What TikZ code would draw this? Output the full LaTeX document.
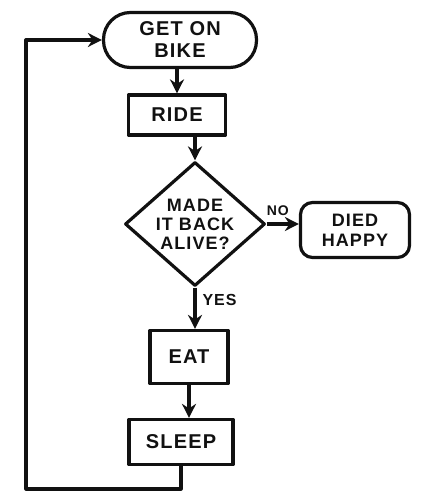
\documentclass[tikz,border=0pt]{standalone}
\usepackage{fontspec}
\setmainfont{Liberation Sans}[LetterSpace=6]
\usepackage{tikz}
\usetikzlibrary{arrows.meta,positioning,calc,shapes.geometric}
\definecolor{InkBlack}{HTML}{111111}

\begin{document}
\begin{tikzpicture}[x=1pt,y=-1pt,
    ink/.style={draw=InkBlack,line width=3.2pt,text=InkBlack,align=center,line join=round},
    boxnode/.style={ink,rectangle,inner sep=0pt,font=\bfseries\fontsize{20}{23}\selectfont},
    flow/.style={draw=InkBlack,line width=3.2pt,line join=round,-{Stealth[length=14pt,width=14pt]}},
    tag/.style={text=InkBlack,inner sep=0pt}]
  \useasboundingbox (0,0) rectangle (422,502);
  % boxes
  \node[boxnode,rounded corners=27pt,minimum width=153pt,minimum height=55pt] (bike) at (180,40) {GET ON\\[-1pt]BIKE};
  \node[boxnode,minimum width=97pt,minimum height=40pt] (ride) at (177,115) {RIDE};
  \node[ink,diamond,inner sep=-14pt,minimum width=140pt,minimum height=124pt,
        font=\bfseries\fontsize{18}{19}\selectfont] (alive) at (195,224) {MADE\\IT BACK\\ALIVE?};
  \node[boxnode,rounded corners=12pt,minimum width=109pt,minimum height=55pt,
        font=\bfseries\fontsize{18}{21}\selectfont] (died) at (355,230) {DIED\\[-1pt]HAPPY};
  \node[boxnode,minimum width=78pt,minimum height=53pt] (eat) at (189,357) {EAT};
  \node[boxnode,minimum width=104pt,minimum height=45pt] (sleep) at (181,442) {SLEEP};
  \coordinate (loopend) at (26,489);
  % connectors
  \draw[flow] (bike.south -| ride.north) -- (ride.north);
  \draw[flow] (alive.north |- ride.south) -- (alive.north);
  \draw[flow] (alive.east) -- (alive.east -| died.west)
    node[tag,pos=0.35,above=7pt,font=\bfseries\fontsize{14}{15}\selectfont] (no) {NO};
  \draw[flow] (alive.south) -- (alive.south |- eat.north)
    node[tag,pos=0.3,right=6pt,font=\bfseries\fontsize{16}{17}\selectfont] (yes) {YES};
  \draw[flow] (eat.south) -- (eat.south |- sleep.north);
  \draw[flow] (sleep.south) |- (loopend) |- (bike.west);
\end{tikzpicture}
\end{document}
